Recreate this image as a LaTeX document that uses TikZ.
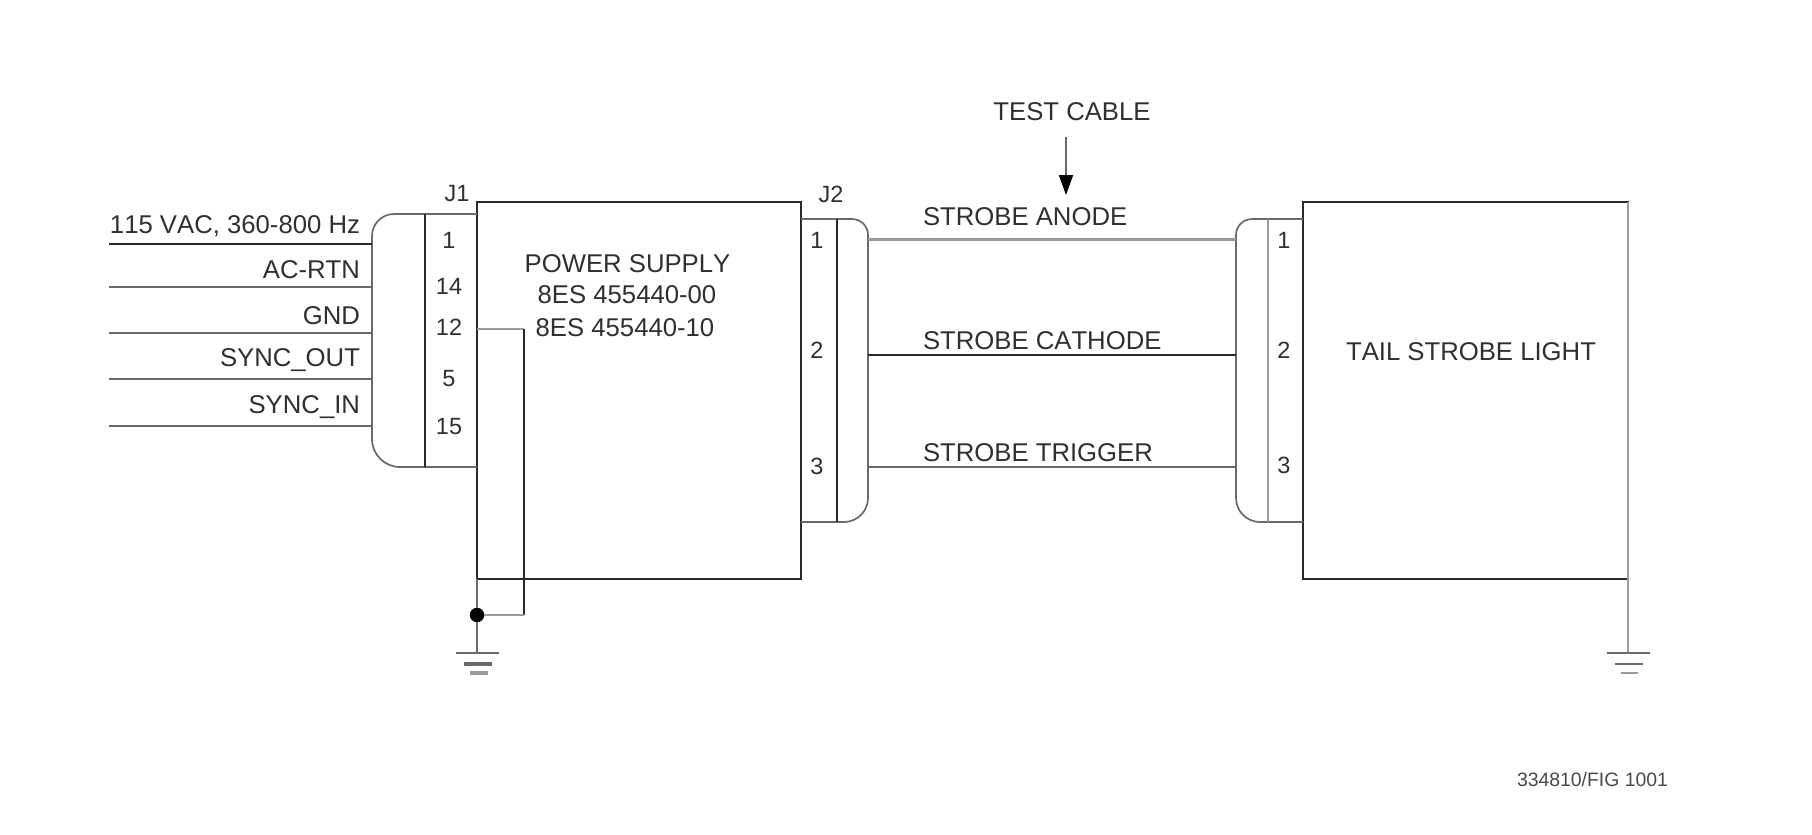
\documentclass[tikz,border=0pt]{standalone}
\usepackage{fontspec}
\setmainfont[Kerning=Off]{Liberation Sans}
\usetikzlibrary{arrows.meta}
\definecolor{ink}{HTML}{2A2A2A}
\definecolor{inkmid}{HTML}{6A6A6A}
\definecolor{inkpale}{HTML}{9A9A9A}
\definecolor{txt}{HTML}{303030}
\tikzset{
  x=1pt,y=-1pt,
  line join=miter,
  wire/.style={draw=ink,line width=1.5pt},
  wirebold/.style={draw=inkmid,line width=2.6pt},
  wiregray/.style={draw=inkmid,line width=1.7pt},
  wirepale/.style={draw=inkpale,line width=3pt},
  boxn/.style={draw=ink,line width=2pt,inner sep=0pt,outer sep=0pt,anchor=north west},
  lab/.style={font=\fontsize{25.7}{28}\selectfont,text=txt,inner sep=0pt,outer sep=0pt},
  labr/.style={lab,anchor=base east},
  labl/.style={lab,anchor=base west},
  labc/.style={lab,anchor=center},
  pin/.style={lab,anchor=center,font=\fontsize{23.5}{26}\selectfont},
  small/.style={lab,anchor=base west,font=\fontsize{19.4}{22}\selectfont,text=inkmid!70!black},
}
\begin{document}
\begin{tikzpicture}
\useasboundingbox[fill=white] (0,0) rectangle (1812,835);
% boxes
\node[boxn,minimum width=324pt,minimum height=377pt] (ps) at (477,202) {};
\node[boxn,minimum width=325pt,minimum height=377pt] (tail) at (1303,202) {};
\draw[draw=inkpale,line width=2.4pt] (tail.north east) -- (tail.south east);
% J1 connector
\coordinate (j1t) at (ps.west |- 0,214);
\coordinate (j1b) at (ps.west |- 0,467);
\coordinate (j1i) at (425,214);
\coordinate (j1ib) at (425,467);
\draw[wiregray] [rounded corners=22pt] (j1t) -- (372,214) [rounded corners=28pt] -- (372,467) -- (j1b);
\draw[wire,line width=1.2pt] (j1i) -- (j1ib);
% J2 connector
\coordinate (j2t) at (ps.east |- 0,219);
\coordinate (j2b) at (ps.east |- 0,522);
\draw[wiregray] [rounded corners=16pt] (j2t) -- (868,219) [rounded corners=24pt] -- (868,522) -- (j2b);
\draw[wire,line width=1.2pt] (837,219) coordinate (j2i) -- (837,522) coordinate (j2ib);
% tail connector
\coordinate (j3t) at (tail.west |- 0,219);
\coordinate (j3b) at (tail.west |- 0,522);
\draw[wiregray] [rounded corners=16pt] (j3t) -- (1236,219) [rounded corners=24pt] -- (1236,522) -- (j3b);
\draw[draw=inkpale,line width=2.4pt] (1268,219) coordinate (j3i) -- (1268,522) coordinate (j3ib);
% input wires
\coordinate (a1) at (109,244); \coordinate (b1) at (372,244);
\coordinate (a2) at (109,287); \coordinate (b2) at (372,287);
\coordinate (a3) at (109,333); \coordinate (b3) at (372,333);
\coordinate (a4) at (109,379); \coordinate (b4) at (372,379);
\coordinate (a5) at (109,426); \coordinate (b5) at (372,426);
\draw[wire,line width=1.9pt] (a1) -- (b1);
\draw[wiregray] (a2) -- (b2);
\draw[wirebold] (a3) -- (b3);
\draw[wiregray] (a4) -- (b4);
\draw[wirebold] (a5) -- (b5);
% strobe wires
\coordinate (c1) at (868,239); \coordinate (d1) at (1236,239);
\coordinate (c2) at (868,355); \coordinate (d2) at (1236,355);
\coordinate (c3) at (868,467); \coordinate (d3) at (1236,467);
\draw[wirepale] (c1) -- (d1);
\draw[wire,line width=1.3pt] (c2) -- (d2);
\draw[wirebold] (c3) -- (d3);
% jumper and grounds
\coordinate (p12) at (ps.west |- 0,329);
\coordinate (jc) at (524,329);
\coordinate (jd) at (524,615);
\node[circle,fill=black,minimum size=14.5pt,inner sep=0pt,outer sep=0pt] (dot) at (477,615) {};
\draw[draw=inkpale,line width=2.6pt] (p12) -- (jc);
\draw[wire,line width=2pt] (jc) -- (jd);
\draw[draw=inkpale,line width=2.4pt] (jd) -- (dot);
\draw[wiregray] (ps.south west) -- (dot);
\coordinate (g1) at (477,653);
\draw[wiregray] (dot) -- (g1);
\draw[draw=inkmid,line width=2.8pt] (456,653) coordinate (g1a) -- (499,653) coordinate (g1b);
\draw[draw=inkmid,line width=3.2pt] (464,664) coordinate (g1c) -- (492,664) coordinate (g1d);
\draw[draw=inkpale,line width=3.2pt] (470,673) coordinate (g1e) -- (488,673) coordinate (g1f);
\coordinate (g2) at (tail.south east |- 0,653);
\draw[draw=inkpale,line width=2.4pt] (tail.south east) -- (g2);
\draw[draw=inkmid,line width=2.6pt] (1607,653) coordinate (g2a) -- (1650,653) coordinate (g2b);
\draw[draw=inkmid,line width=2.6pt] (1615,664) coordinate (g2c) -- (1643,664) coordinate (g2d);
\draw[draw=inkpale,line width=2.8pt] (1621,673) coordinate (g2e) -- (1638,673) coordinate (g2f);
% arrow
\coordinate (ar1) at (1066,137);
\coordinate (ar2) at (1066,195);
\draw[draw=inkmid,line width=1.8pt,-{Triangle[length=20pt,width=14pt,color=black]}] (ar1) -- (ar2);
% labels
\node[labc] (tc) at (1072,112) {TEST CABLE};
\node[labl] (l1) at (923,225) {STROBE ANODE};
\node[labl] (l2) at (923,349) {STROBE CATHODE};
\node[labl] (l3) at (923,461) {STROBE TRIGGER};
\node[labc] (l4) at (627.5,264) {POWER SUPPLY};
\node[labc] (l5) at (627,294.5) {8ES 455440-00};
\node[labc] (l6) at (625,328) {8ES 455440-10};
\node[labc] (l7) at (1471,352) {TAIL STROBE LIGHT};
\node[labr] (i1) at (360,233) {115 VAC, 360-800 Hz};
\node[labr] (i2) at (360,278) {AC-RTN};
\node[labr] (i3) at (360,324) {GND};
\node[labr] (i4) at (360,366) {SYNC\_OUT};
\node[labr] (i5) at (360,413) {SYNC\_IN};
\node[pin] (j1) at (457,194) {J1};
\node[pin] (j2) at (831,194) {J2};
\node[pin] (p1) at (449,240) {1};
\node[pin] (p2) at (449,286) {14};
\node[pin] (p3) at (449,327) {12};
\node[pin] (p4) at (449,379) {5};
\node[pin] (p5) at (449,427) {15};
\node[pin] (q1) at (817,240) {1};
\node[pin] (q2) at (817,350) {2};
\node[pin] (q3) at (817,466) {3};
\node[pin] (r1) at (1284,240) {1};
\node[pin] (r2) at (1284,350) {2};
\node[pin] (r3) at (1284,465) {3};
\node[small] (fig) at (1517,786) {334810/FIG 1001};
\end{tikzpicture}
\end{document}
